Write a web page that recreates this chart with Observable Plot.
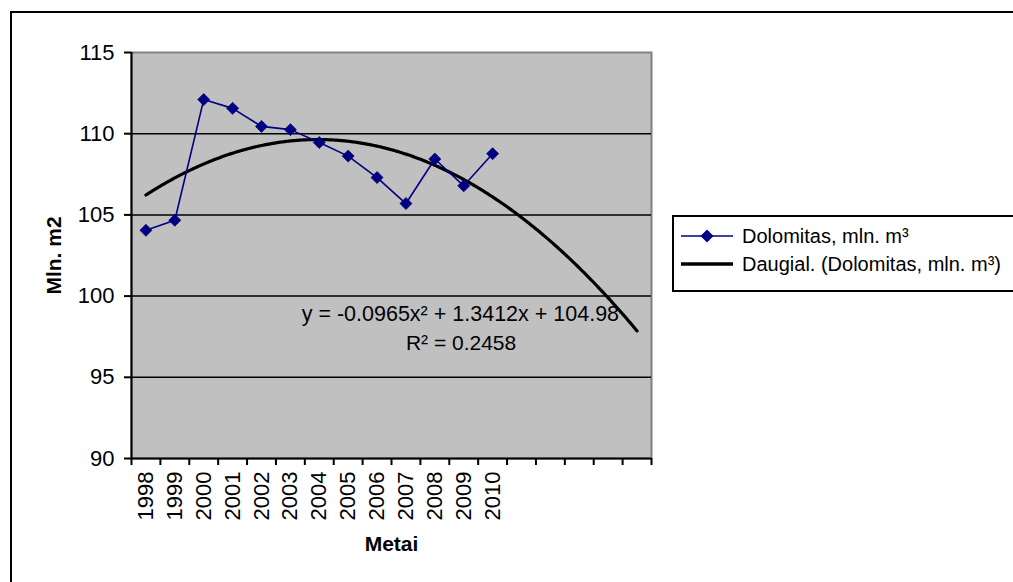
<!DOCTYPE html>
<html>
<head>
<meta charset="utf-8">
<script src="https://cdn.jsdelivr.net/npm/d3@7"></script>
<script src="https://cdn.jsdelivr.net/npm/@observablehq/plot@0.6"></script>
<style>
  html, body { margin: 0; padding: 0; background: #fff; overflow: hidden; }
  body { width: 1013px; height: 582px; position: relative; font-family: "Liberation Sans", Arial, sans-serif; }
  #chart { position: absolute; left: 0; top: 0; }
  #outer { position: absolute; left: 10px; top: 11px; width: 1100px; height: 700px; border: 2px solid #000; box-sizing: border-box; pointer-events: none; }
  #legend { position: absolute; left: 672px; top: 215px; width: 400px; height: 77px; border: 2px solid #000; box-sizing: border-box; background: #fff; }
  .item { position: absolute; left: 7px; height: 28px; display: flex; align-items: center; font-size: 20px; color: #000; white-space: nowrap; }
  .item svg { margin-right: 9px; }
</style>
</head>
<body>
<div id="outer"></div>
<div id="chart"></div>
<div id="legend"></div>
<script>
// Dolomite output by year, million m³
const years = ["1998", "1999", "2000", "2001", "2002", "2003", "2004", "2005", "2006", "2007", "2008", "2009", "2010"];
const dolomitas = [104.05, 104.67, 112.1, 111.56, 110.45, 110.25, 109.46, 108.62, 107.3, 105.7, 108.44, 106.79, 108.77];

// Polynomial (order 2) trend: y = a·x² + b·x + c, x = 1 … years + forecast
const trendCoef = [-0.0965, 1.3412, 104.98];
const trendR2 = 0.2458;
const forecastPeriods = 5;

const yTicks = [90, 95, 100, 105, 110, 115];
const seriesName = "Dolomitas, mln. m³";
const trendName = "Daugial. (Dolomitas, mln. m³)";

const navy = "#000080";
const nCat = years.length + forecastPeriods;

const series = dolomitas.map((v, i) => ({i: i + 1, year: years[i], v}));
const [a, b, c] = trendCoef;
const trendFn = x => a * x * x + b * x + c;
const trend = d3.range(1, nCat + 0.001, 0.05).map(x => ({x, y: trendFn(x)}));
const trendEnd = [{x: nCat, y: trendFn(nCat)}];

const fmt = (n, d) => n.toFixed(d);
const eqText = `y = ${fmt(a, 4)}x² + ${fmt(b, 4)}x + ${fmt(c, 2)}`;
const r2Text = `R² = ${trendR2}`;

const boundaries = d3.range(0.5, nCat + 1, 1);
const labelTicks = d3.range(1, years.length + 1);

const chart = Plot.plot({
  width: 1013,
  height: 582,
  marginLeft: 131,
  marginRight: 362,
  marginTop: 52,
  marginBottom: 124,
  style: {fontFamily: '"Liberation Sans", Arial, sans-serif', fontSize: "22px", color: "#000", background: "transparent", overflow: "visible"},
  x: {type: "linear", domain: [0.5, nCat + 0.5]},
  y: {domain: [90, 115]},
  marks: [
    Plot.frame({fill: "#c0c0c0", stroke: "#808080", strokeWidth: 2}),
    Plot.ruleY(yTicks.filter(t => t > 90 && t < 115), {stroke: "#000", strokeWidth: 1.5}),
    Plot.ruleY([90], {stroke: "#000", strokeWidth: 2}),
    Plot.ruleX([0.5], {stroke: "#000", strokeWidth: 2}),
    Plot.axisY({ticks: yTicks, tickSize: 7, tickPadding: 10, tickFormat: d => d, label: null, strokeWidth: 2, fontSize: 22}),
    Plot.axisX({ticks: boundaries, tickSize: 7, tickFormat: () => "", label: null, strokeWidth: 2}),
    Plot.axisX({ticks: labelTicks, tickSize: 0, tickPadding: 13, tickRotate: -90, tickFormat: i => years[i - 1], label: null, fontSize: 22}),
    Plot.line(trend, {x: "x", y: "y", stroke: "#000", strokeWidth: 3.2}),
    Plot.line(series, {x: "i", y: "v", stroke: navy, strokeWidth: 1.6}),
    Plot.dot(series, {x: "i", y: "v", symbol: "diamond2", r: 5.4, fill: navy, stroke: navy, strokeWidth: 0.8}),
    Plot.text(trendEnd, {x: "x", y: "y", text: () => eqText, textAnchor: "end", dx: -18, dy: -17, fontSize: 21.5}),
    Plot.text(trendEnd, {x: "x", y: "y", text: () => r2Text, textAnchor: "middle", dx: -176, dy: 12, fontSize: 21}),
    Plot.text(["Mln. m2"], {frameAnchor: "left", textAnchor: "middle", rotate: -90, dx: -77, fontWeight: "bold", fontSize: 21}),
    Plot.text(["Metai"], {frameAnchor: "bottom", dy: 92, fontWeight: "bold", fontSize: 21, letterSpacing: 1})
  ]
});
document.getElementById("chart").appendChild(chart);

// Legend
const legend = document.getElementById("legend");
const items = [
  {name: seriesName, swatch: `<svg width="52" height="14"><line x1="0" y1="7" x2="52" y2="7" stroke="${navy}" stroke-width="1.6"/><path d="M26,0.5 L32.5,7 L26,13.5 L19.5,7 Z" fill="${navy}"/></svg>`},
  {name: trendName, swatch: `<svg width="52" height="14"><line x1="0" y1="7" x2="52" y2="7" stroke="#000" stroke-width="3.4"/></svg>`}
];
items.forEach((it, k) => {
  const row = document.createElement("div");
  row.className = "item";
  row.style.top = (5 + k * 28) + "px";
  row.innerHTML = it.swatch + `<span>${it.name}</span>`;
  legend.appendChild(row);
});
</script>
</body>
</html>
